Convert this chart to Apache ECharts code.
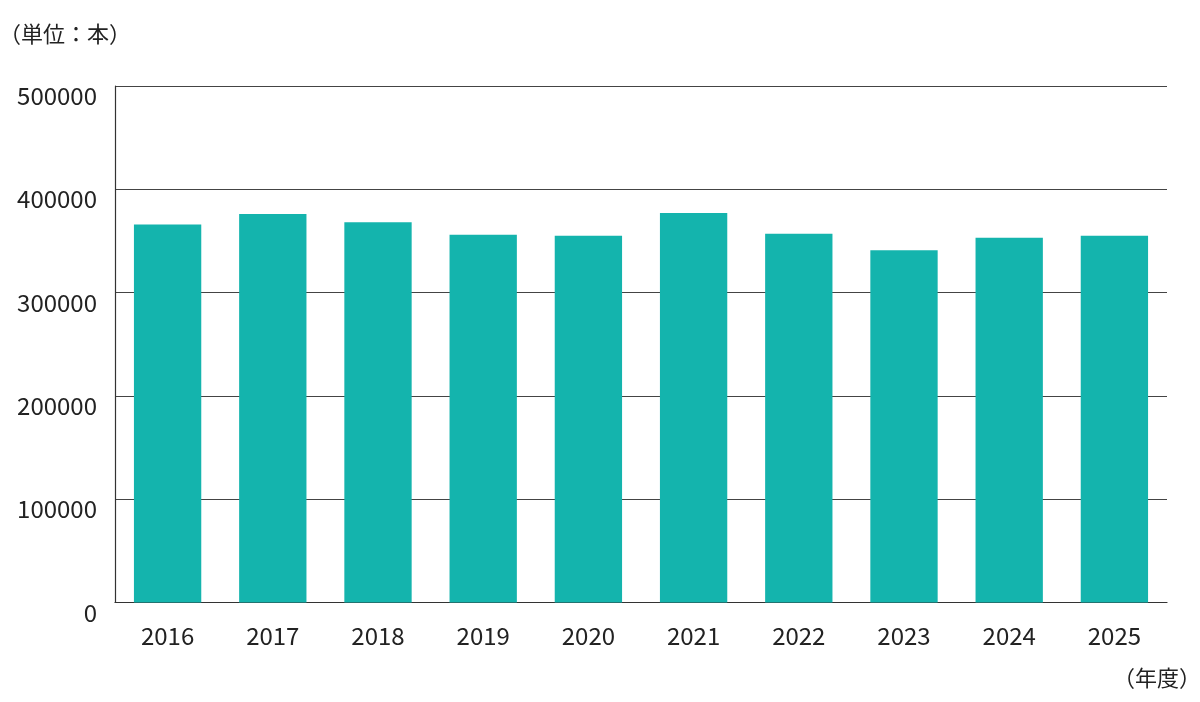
<!DOCTYPE html>
<html>
<head>
<meta charset="utf-8">
<script src="https://cdn.jsdelivr.net/npm/echarts@6/dist/echarts.min.js"></script>
<style>
  html, body { margin: 0; padding: 0; background: #fff; }
  #chart { width: 1200px; height: 702px; }
</style>
</head>
<body>
<div id="chart"></div>
<script>
// 年度
const years = ['2016', '2017', '2018', '2019', '2020', '2021', '2022', '2023', '2024', '2025'];
// 本数
const counts = [366000, 376000, 368000, 356000, 355000, 377000, 357000, 341000, 353000, 355000];
const yTicks = [0, 100000, 200000, 300000, 400000, 500000];

const font = '"Noto Sans CJK JP", "Noto Sans", sans-serif';
const chart = echarts.init(document.getElementById('chart'));

const option = {
    animation: false,
    textStyle: { fontFamily: font },
    title: [
        {
            text: '（単位：本）',
            left: -6, top: 18,
            textStyle: { fontFamily: font, fontSize: 22, fontWeight: 'normal', color: '#222' }
        },
        {
            text: '（年度）',
            right: -6, top: 662,
            textStyle: { fontFamily: font, fontSize: 22, fontWeight: 'normal', color: '#222' }
        }
    ],
    grid: { left: 115, right: 33, top: 86, bottom: 99.5 },
    xAxis: {
        type: 'category',
        data: years,
        axisLine: { lineStyle: { color: '#333', width: 1.2 } },
        axisTick: { show: false },
        axisLabel: { color: '#222', fontSize: 24, margin: 21, fontFamily: font }
    },
    yAxis: {
        type: 'value',
        min: yTicks[0],
        max: yTicks[yTicks.length - 1],
        interval: 100000,
        axisLine: { show: true, lineStyle: { color: '#333', width: 1.2 } },
        axisTick: { show: false },
        splitLine: { lineStyle: { color: '#444', width: 1 } },
        axisLabel: {
            color: '#222', fontSize: 24, margin: 18, fontFamily: font,
            verticalAlign: 'top', lineHeight: 20,
            formatter: (v) => String(v)
        }
    },
    series: [{
        type: 'bar',
        data: counts,
        barWidth: '64%',
        itemStyle: { color: '#14b4ad' }
    }]
};

chart.setOption(option);
</script>
</body>
</html>
